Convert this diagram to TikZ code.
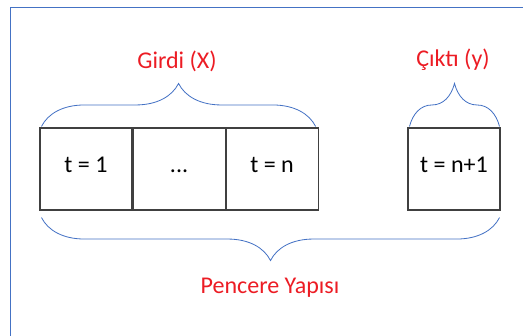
\documentclass[tikz,border=0pt]{standalone}
\usepackage{fontspec}
\setmainfont{Carlito}
\usetikzlibrary{positioning, decorations.pathreplacing}

\definecolor{kutumavi}{RGB}{68,114,196}
\definecolor{yazikirmizi}{RGB}{236,28,36}
\definecolor{kenargri}{RGB}{64,64,64}

\begin{document}
\begin{tikzpicture}[
        x=0.03cm, y=-0.03cm,
        every node/.style={font=\fontsize{20.5}{24}\selectfont},
        adim/.style={
            rectangle, draw=kenargri, line width=0.9pt, fill=white,
            minimum width=2.76cm, minimum height=2.46cm, inner sep=0pt,
            text height=0.65em, text depth=0pt
        },
        baslik/.style={text=yazikirmizi},
        parantez/.style={
            draw=kutumavi, line width=0.7pt,
            decorate, decoration={brace, amplitude=1.29cm}
        }
    ]
    \useasboundingbox (0,0) rectangle (523,336);

% --- Cerceve ---
    \draw[kutumavi, line width=0.7pt] (10,7) rectangle (540,350);

% --- Girdi adimlari ---
    \node[adim] (t1) at (86,169) {t = 1};
    \node[adim, right=0pt of t1] (orta) {...};
    \node[adim, right=0pt of orta] (tn) {t = n};

% --- Cikti adimi ---
    \node[adim] (tn1) at (454,169) {t = n+1};

% --- Parantezler ---
    \draw[parantez] ([xshift=0.06cm, yshift=0.03cm]t1.north west) -- ([xshift=-0.09cm, yshift=0.03cm]tn.north east);
    \draw[parantez] ([xshift=0.06cm, yshift=0.03cm]tn1.north west) -- ([xshift=-0.03cm, yshift=0.03cm]tn1.north east);
    \draw[parantez] ([xshift=-0.03cm, yshift=-0.21cm]tn1.south east) -- ([xshift=0.06cm, yshift=-0.21cm]t1.south west);

% --- Basliklar ---
    \node[baslik] (girdi) at (177,61) {Girdi (X)};
    \node[baslik] (cikti) at (453,60) {Çıktı (y)};
    \node[baslik] (pencere) at (270,288) {Pencere Yapısı};
\end{tikzpicture}
\end{document}
